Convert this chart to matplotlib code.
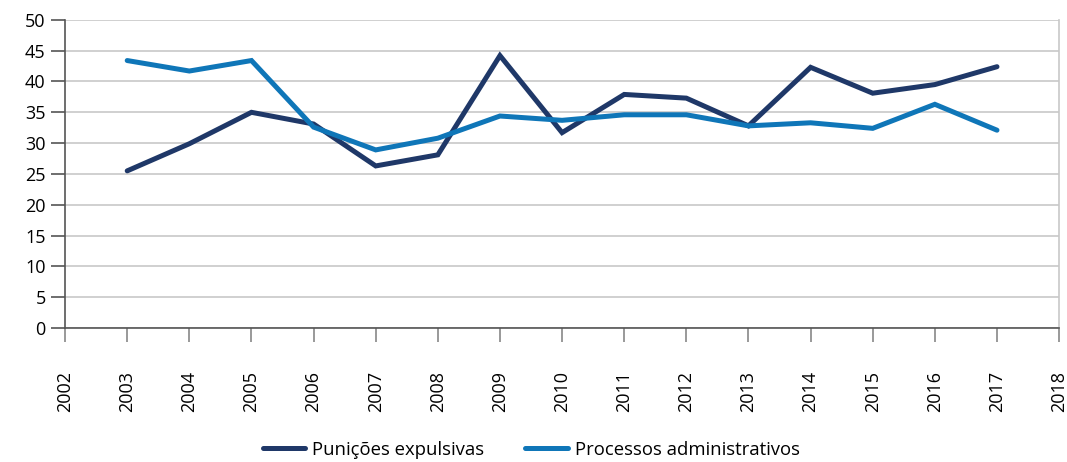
import matplotlib.pyplot as plt
import numpy as np

years = list(range(2002, 2019))
data_years = list(range(2003, 2018))
punicoes = [25.5, 29.9, 35.0, 33.1, 26.3, 28.1, 44.2, 31.7, 37.9, 37.3, 32.8, 42.3, 38.1, 39.5, 42.4]
processos = [43.4, 41.7, 43.4, 32.6, 28.9, 30.8, 34.4, 33.7, 34.6, 34.6, 32.8, 33.3, 32.4, 36.3, 32.1]

plt.rcParams['font.family'] = ['Open Sans', 'DejaVu Sans']

fig = plt.figure(figsize=(10.67, 4.62), dpi=100)
ax = fig.add_axes([0.061, 0.29, 0.9316, 0.667])

ax.plot(data_years, punicoes, color="#1f3868", lw=3.6, solid_capstyle="round",
        solid_joinstyle="miter", label="Punições expulsivas", zorder=3)
ax.plot(data_years, processos, color="#0f76b8", lw=3.6, solid_capstyle="round",
        solid_joinstyle="miter", label="Processos administrativos", zorder=3)

ax.set_xlim(2002, 2018)
ax.set_ylim(0, 50)
ax.set_yticks(np.arange(0, 51, 5))
ax.set_xticks(years)
ax.set_xticklabels([str(y) for y in years], rotation=90)
ax.grid(axis="y", color="#c8c8c8", lw=1.2)
ax.set_axisbelow(True)

ax.spines["top"].set_visible(False)
ax.spines["right"].set_color("#c8c8c8")
ax.spines["right"].set_linewidth(1.2)
ax.spines["left"].set_color("#555555")
ax.spines["bottom"].set_color("#555555")
ax.spines["left"].set_linewidth(1.2)
ax.spines["bottom"].set_linewidth(1.2)

ax.tick_params(axis="y", length=10, width=1.2, color="#555555", labelsize=13, pad=4)
ax.tick_params(axis="x", length=10, width=1.2, color="#888888", labelsize=13, pad=21)

ax.legend(loc="center", bbox_to_anchor=(0.469, -0.395), ncol=2, frameon=False,
          fontsize=13.3, handlelength=2.3, columnspacing=2.2, handletextpad=0.4)

fig.savefig("out.png", dpi=100)
